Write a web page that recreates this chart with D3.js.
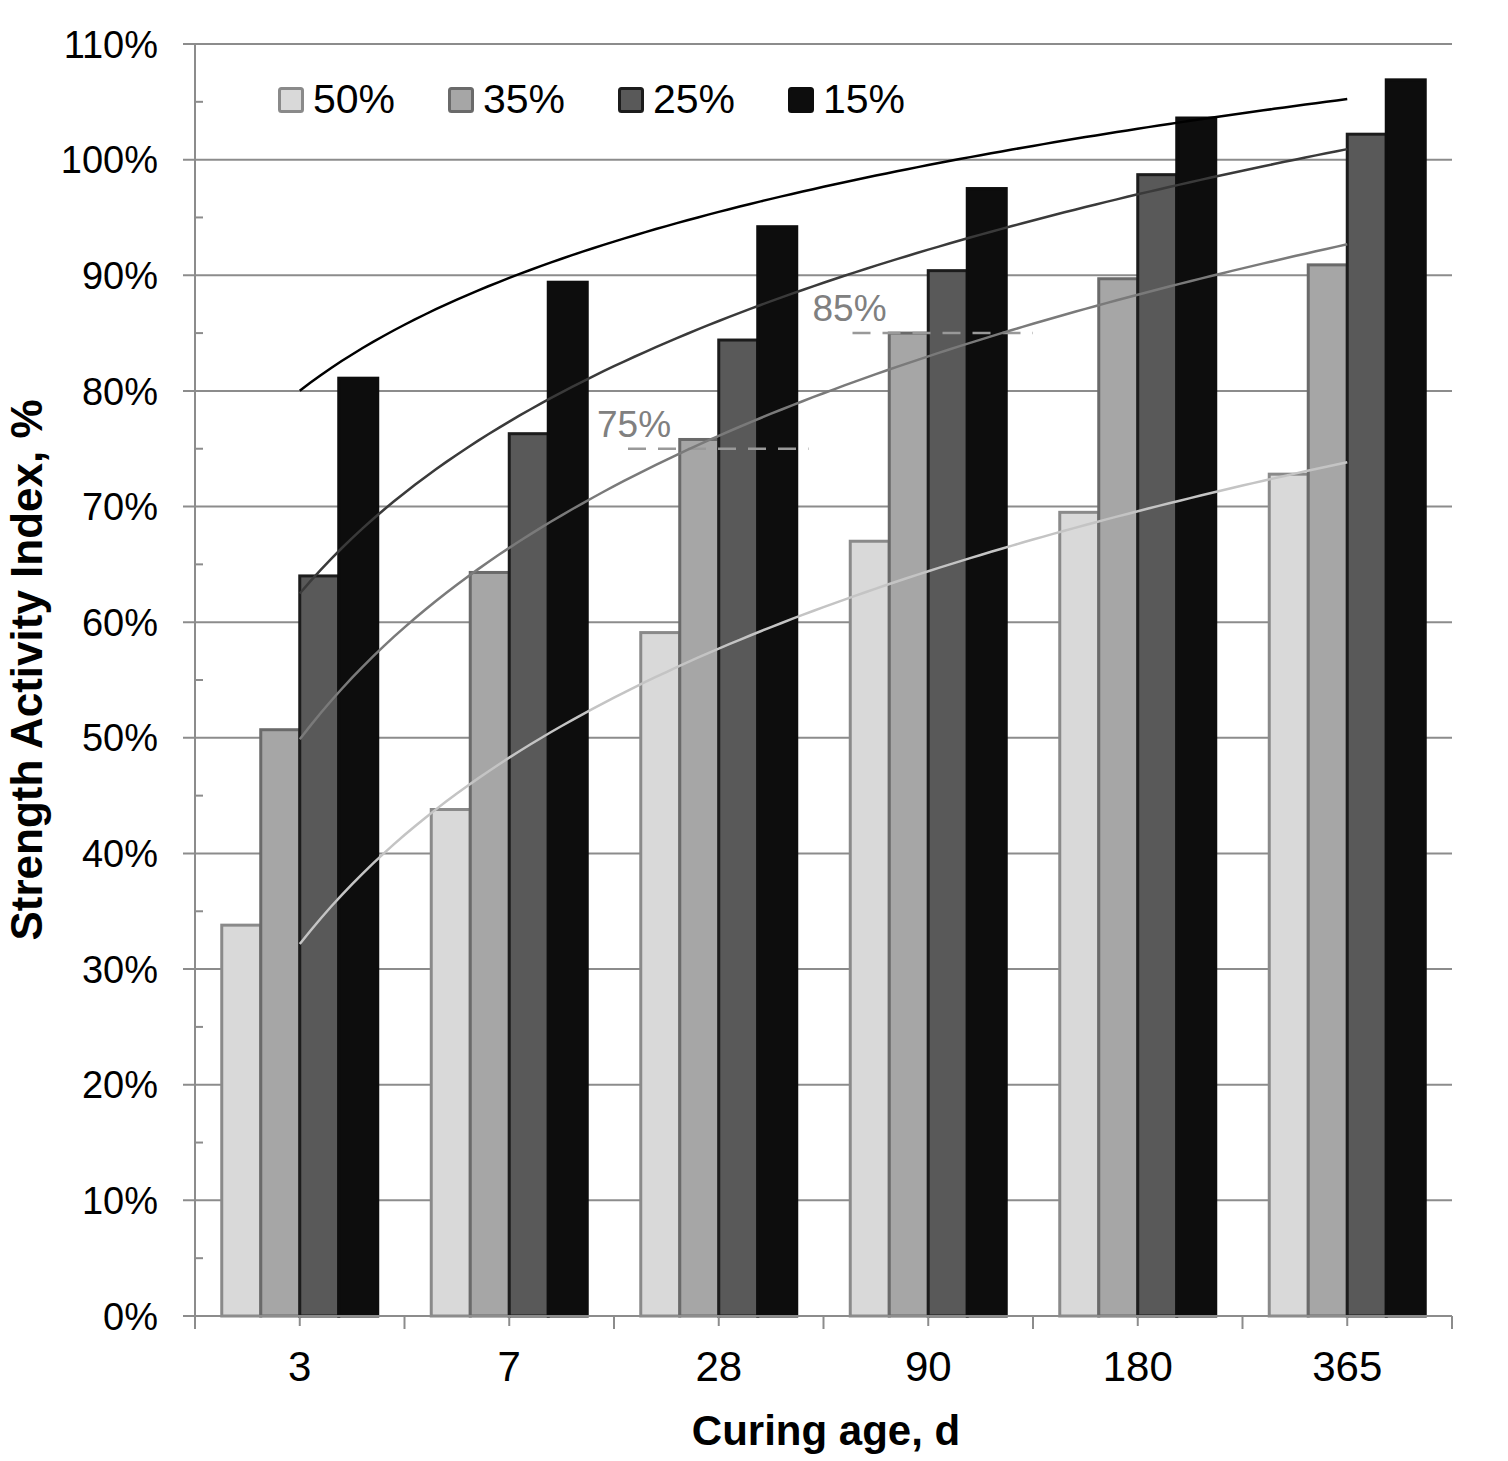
<!DOCTYPE html>
<html>
<head>
<meta charset="utf-8">
<script src="https://cdn.jsdelivr.net/npm/d3@7"></script>
<style>
    body { margin: 0; background: #fff; }
    svg { display: block; font-family: "Liberation Sans", Arial, sans-serif; }
</style>
</head>
<body>
<div class="diagram"></div>
<script>
"use strict"

// chart data
const categories = ["3", "7", "28", "90", "180", "365"]
const seriesNames = ["50%", "35%", "25%", "15%"]
const sai50 = [33.8, 43.8, 59.1, 67.0, 69.5, 72.8]
const sai35 = [50.7, 64.3, 75.8, 85.0, 89.7, 90.9]
const sai25 = [64.0, 76.3, 84.4, 90.4, 98.7, 102.2]
const sai15 = [81.1, 89.4, 94.2, 97.5, 103.6, 106.9]
const yTicks = [0, 10, 20, 30, 40, 50, 60, 70, 80, 90, 100, 110]
const refLevels = [75, 85]
const refCategories = ["28", "90"]

const WIDTH = 1508
const HEIGHT = 1461
const PLOT = { left: 195, right: 1452, top: 44, bottom: 1316 }

// fill / outline / trend colour per series
const FILLS = ["#d9d9d9", "#a6a6a6", "#595959", "#0d0d0d"]
const STROKES = ["#8a8a8a", "#6a6a6a", "#1c1c1c", "#0d0d0d"]
const TRENDS = ["#c4c4c4", "#7a7a7a", "#3a3a3a", "#000000"]

const allSeries = [sai50, sai35, sai25, sai15]

// excel style logarithmic trendline: y = a + b ln(x), x = 1..n
function logFit(values) {
    let xs = values.map((d, i) => Math.log(i + 1))
    let mx = d3.mean(xs)
    let my = d3.mean(values)
    let sxy = d3.sum(xs, (x, i) => (x - mx) * (values[i] - my))
    let sxx = d3.sum(xs, (x) => (x - mx) * (x - mx))
    let b = sxy / sxx
    return { a: my - b * mx, b: b }
}

const svg = d3.select(".diagram").append("svg")
    .attr("width", WIDTH).attr("height", HEIGHT)

const xScale = d3.scaleBand().domain(categories)
    .range([PLOT.left, PLOT.right])
    .paddingInner(0.2554).paddingOuter(0.1277)

const subScale = d3.scaleBand().domain(seriesNames)
    .range([0, xScale.bandwidth()])

const yScale = d3.scaleLinear().domain([0, 110])
    .range([PLOT.bottom, PLOT.top])

const step = xScale.step()
const center = (c) => xScale(c) + xScale.bandwidth() / 2

// gridlines + y tick labels
const grid = svg.append("g")
grid.selectAll("line").data(yTicks).join("line")
    .attr("x1", PLOT.left - 12).attr("x2", PLOT.right)
    .attr("y1", (d) => yScale(d)).attr("y2", (d) => yScale(d))
    .attr("stroke", "#8c8c8c").attr("stroke-width", 2)

grid.selectAll("text").data(yTicks).join("text")
    .attr("x", 158).attr("y", (d) => yScale(d)).attr("dy", "0.36em")
    .attr("text-anchor", "end").attr("font-size", 38).attr("fill", "#000")
    .text((d) => d + "%")

// minor ticks every 5%
svg.append("g").selectAll("line").data(yTicks.slice(0, -1)).join("line")
    .attr("x1", PLOT.left).attr("x2", PLOT.left + 8)
    .attr("y1", (d) => yScale(d + 5)).attr("y2", (d) => yScale(d + 5))
    .attr("stroke", "#8c8c8c").attr("stroke-width", 2)

// y axis line
svg.append("line")
    .attr("x1", PLOT.left).attr("x2", PLOT.left)
    .attr("y1", PLOT.top).attr("y2", PLOT.bottom + 12)
    .attr("stroke", "#8c8c8c").attr("stroke-width", 2)

// bars
const bars = svg.append("g")
allSeries.forEach((values, s) => {
    bars.append("g").selectAll("rect").data(values).join("rect")
        .attr("x", (d, i) => xScale(categories[i]) + subScale(seriesNames[s]))
        .attr("y", (d) => yScale(d))
        .attr("width", subScale.bandwidth())
        .attr("height", (d) => yScale(0) - yScale(d))
        .attr("fill", FILLS[s])
        .attr("stroke", STROKES[s]).attr("stroke-width", 3)
})

// x axis line and ticks (boundaries and centres)
svg.append("line")
    .attr("x1", PLOT.left - 12).attr("x2", PLOT.right)
    .attr("y1", PLOT.bottom).attr("y2", PLOT.bottom)
    .attr("stroke", "#8c8c8c").attr("stroke-width", 2)

const xTicks = categories.map((c) => xScale(c) - xScale.paddingOuter() * step)
    .concat([PLOT.right])
svg.append("g").selectAll("line").data(xTicks).join("line")
    .attr("x1", (d) => d).attr("x2", (d) => d)
    .attr("y1", PLOT.bottom).attr("y2", PLOT.bottom + 13)
    .attr("stroke", "#8c8c8c").attr("stroke-width", 2)
svg.append("g").selectAll("line").data(categories).join("line")
    .attr("x1", (d) => center(d)).attr("x2", (d) => center(d))
    .attr("y1", PLOT.bottom).attr("y2", PLOT.bottom + 10)
    .attr("stroke", "#8c8c8c").attr("stroke-width", 2)

svg.append("g").selectAll("text").data(categories).join("text")
    .attr("x", (d) => center(d)).attr("y", 1381)
    .attr("text-anchor", "middle").attr("font-size", 42)
    .text((d) => d)

// reference levels (dashed) with labels
refLevels.forEach((level, k) => {
    let x0 = xScale(refCategories[k]) - xScale.paddingOuter() * step
    let y = yScale(level)
    let startOff = k == 0 ? 14 : 29
    svg.append("line")
        .attr("x1", x0 + startOff).attr("x2", x0 + step - (k == 0 ? 15 : 0))
        .attr("y1", y).attr("y2", y)
        .attr("stroke", "#999").attr("stroke-width", 2.5)
        .attr("stroke-dasharray", "18,12")
    svg.append("text")
        .attr("x", x0 + startOff - (k == 0 ? 31 : 40)).attr("y", y - 12)
        .attr("font-size", 37).attr("fill", "#808080")
        .text(level + "%")
})

// log trendlines drawn over the bars
const idxScale = d3.scaleLinear().domain([1, categories.length])
    .range([center(categories[0]), center(categories[categories.length - 1])])
const samples = d3.range(1, categories.length + 0.001, 0.05)
allSeries.forEach((values, s) => {
    let fit = logFit(values)
    let line = d3.line()
        .x((t) => idxScale(t))
        .y((t) => yScale(fit.a + fit.b * Math.log(t)))
    svg.append("path")
        .attr("d", line(samples))
        .attr("fill", "none")
        .attr("stroke", TRENDS[s]).attr("stroke-width", 2.5)
})

// legend
const legend = svg.append("g")
seriesNames.forEach((name, s) => {
    let lx = 278 + s * 170
    legend.append("rect")
        .attr("x", lx + 1.5).attr("y", 88.5).attr("width", 23).attr("height", 23)
        .attr("rx", 2)
        .attr("fill", FILLS[s]).attr("stroke", STROKES[s]).attr("stroke-width", 3)
    legend.append("text")
        .attr("x", lx + 35).attr("y", 113)
        .attr("font-size", 41)
        .text(name)
})

// axis titles
svg.append("text")
    .attr("x", 826).attr("y", 1445)
    .attr("text-anchor", "middle").attr("font-size", 42).attr("font-weight", "bold")
    .text("Curing age, d")

svg.append("text")
    .attr("transform", "translate(42, 670) rotate(-90)")
    .attr("text-anchor", "middle").attr("font-size", 44).attr("font-weight", "bold")
    .text("Strength Activity Index, %")
</script>
</body>
</html>
